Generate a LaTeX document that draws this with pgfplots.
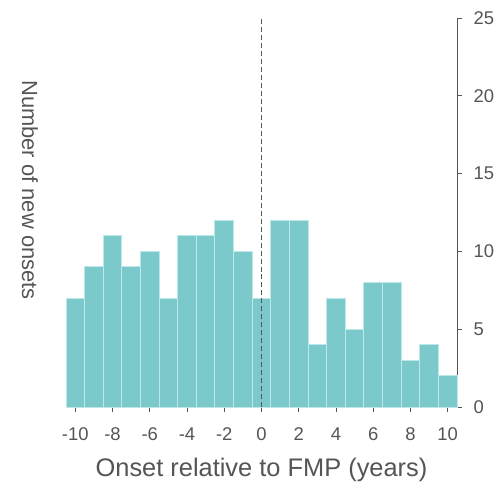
\documentclass[border=0pt]{standalone}
\usepackage{fontspec}
\setmainfont{Liberation Sans}
\usepackage{pgfplots}
\pgfplotsset{compat=1.18}
\usetikzlibrary{calc}
\definecolor{barteal}{HTML}{7CC9CB}
\definecolor{barline}{HTML}{BDE8EA}
\definecolor{axgray}{HTML}{555555}

\begin{document}
\begin{tikzpicture}
\begin{axis}[
  scale only axis, width=391bp, height=389bp,
  xmin=-10.5, xmax=10.5, ymin=0, ymax=25,
  axis x line*=bottom, axis y line*=right,
  axis line style={axgray, line width=0.8pt},
  xtick={-10,-8,...,10},
  xticklabels={-10,-8,-6,-4,-2,0,2,4,6,8,10},
  ytick={0,5,...,25},
  tick style={axgray, line width=0.6pt},
  tick align=outside, major tick length=5bp,
  ticklabel style={font=\fontsize{18.5}{20}\selectfont, text=axgray},
  /pgf/number format/assume math mode=true,
  xticklabel style={yshift=-12bp},
  yticklabel style={xshift=8bp},
  xlabel={Onset relative to FMP (years)},
  xlabel style={font=\fontsize{25.5}{27}\selectfont, text=axgray, yshift=-11bp},
  clip=false,
]
\addplot[ybar, bar width=1, fill=barteal, draw=barline, line width=1pt]
  coordinates {(-10,7) (-9,9) (-8,11) (-7,9) (-6,10) (-5,7) (-4,11) (-3,11) (-2,12) (-1,10)
               (0,7) (1,12) (2,12) (3,4) (4,7) (5,5) (6,8) (7,8) (8,3) (9,4) (10,2)};
\addplot[axgray, line width=0.8pt, dash pattern=on 5pt off 3pt] coordinates {(0,0) (0,25)};
\coordinate (sw) at (rel axis cs:0,0);
\coordinate (ne) at (rel axis cs:1,1);
\end{axis}
\node[rotate=-90, font=\fontsize{22}{24}\selectfont, text=axgray] at ($(sw)+(-36bp,217bp)$) {Number of new onsets};
\pgfresetboundingbox
\path[use as bounding box] ($(sw)+(-66bp,-86bp)$) rectangle ($(ne)+(41bp,18bp)$);
\end{tikzpicture}
\end{document}
